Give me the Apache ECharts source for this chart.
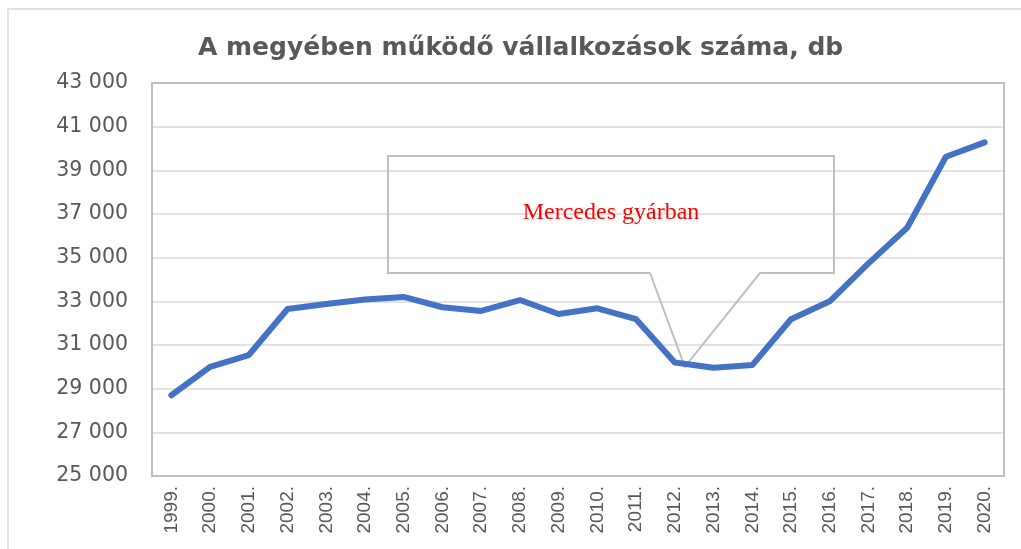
<!DOCTYPE html>
<html>
<head>
<meta charset="utf-8">
<script src="https://cdn.jsdelivr.net/npm/echarts@6/dist/echarts.min.js"></script>
<style>
  html, body { margin: 0; padding: 0; background: #fff; }
  #chart { width: 1021px; height: 549px; }
</style>
</head>
<body>
<div id="chart"></div>
<script>
var chart = echarts.init(document.getElementById('chart'));

var years = ['1999.', '2000.', '2001.', '2002.', '2003.', '2004.', '2005.', '2006.', '2007.', '2008.', '2009.',
    '2010.', '2011.', '2012.', '2013.', '2014.', '2015.', '2016.', '2017.', '2018.', '2019.', '2020.'];
var companies = [28700, 30000, 30540, 32650, 32880, 33080, 33200, 32730, 32560, 33060, 32420,
    32680, 32180, 30200, 29960, 30080, 32180, 33000, 34740, 36370, 39620, 40280];
var callout = 'Mercedes gyárban';
var calloutAt = ['2012.', 30000];

var grey = '#595959';

var option = {
    animation: false,
    title: {
        text: 'A megyében működő vállalkozások száma, db',
        left: 193,
        top: 31,
        textStyle: {
            fontFamily: 'DejaVu Sans',
            fontWeight: 'bold',
            fontSize: 25,
            color: grey
        }
    },
    grid: {
        left: 152,
        right: 17,
        top: 83,
        bottom: 73
    },
    xAxis: {
        type: 'category',
        data: years,
        boundaryGap: true,
        axisTick: { show: false },
        axisLine: { lineStyle: { color: '#bfbfbf', width: 2 } },
        axisLabel: {
            rotate: 90,
            margin: 10,
            interval: 0,
            fontFamily: 'Liberation Sans',
            fontSize: 19,
            color: grey
        }
    },
    yAxis: {
        type: 'value',
        min: 25000,
        max: 43000,
        interval: 2000,
        axisLine: { show: true, lineStyle: { color: '#bfbfbf', width: 2 } },
        axisTick: { show: false },
        splitLine: { lineStyle: { color: '#d9d9d9', width: 1.5 } },
        axisLabel: {
            margin: 24,
            fontFamily: 'DejaVu Sans',
            fontSize: 20.5,
            color: grey,
            formatter: function (v) {
                var s = String(v);
                return s.slice(0, s.length - 3) + ' ' + s.slice(-3);
            }
        }
    },
    series: [{
        type: 'line',
        data: companies,
        showSymbol: false,
        lineStyle: { color: '#4472C4', width: 6, cap: 'round', join: 'round' },
        itemStyle: { color: '#4472C4' }
    }]
};

chart.setOption(option);

// callout box pointing at the 2012 dip
var tip = chart.convertToPixel({ seriesIndex: 0 }, calloutAt);
var tx = tip[0] + 10, ty = tip[1];
var boxL = 388, boxT = 156, boxR = 834, boxB = 273;

chart.setOption({
    graphic: [
        {
            type: 'rect',
            shape: { x: 8, y: 9, width: 1030, height: 560 },
            style: { fill: null, stroke: '#d9d9d9', lineWidth: 1.5 },
            silent: true
        },
        {
            type: 'rect',
            shape: { x: 152, y: 83, width: 852, height: 393 },
            style: { fill: null, stroke: '#bfbfbf', lineWidth: 2 },
            silent: true
        },
        {
            type: 'polyline',
            shape: {
                points: [[650, boxB], [boxL, boxB], [boxL, boxT], [boxR, boxT], [boxR, boxB],
                    [760, boxB], [tx, ty], [650, boxB]]
            },
            style: { fill: null, stroke: '#bfbfbf', lineWidth: 2 },
            silent: true
        },
        {
            type: 'text',
            x: 611,
            y: 213,
            style: {
                text: callout,
                fill: '#ff0000',
                font: '24px "Liberation Serif"',
                align: 'center',
                verticalAlign: 'middle'
            }
        }
    ]
});
</script>
</body>
</html>
